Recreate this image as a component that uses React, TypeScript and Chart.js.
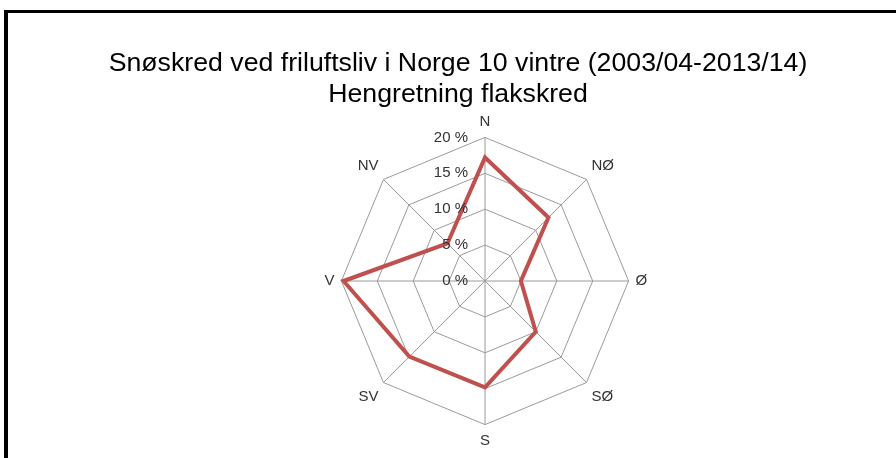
import React, { useEffect, useRef } from 'react';
import { Chart, registerables } from 'chart.js';

Chart.register(...registerables);

const directions = ['N', 'NØ', 'Ø', 'SØ', 'S', 'SV', 'V', 'NV'];
const shares = [17.2, 12.5, 5.0, 10.0, 14.8, 14.9, 19.7, 7.4];
const scaleMin = 0;
const scaleMax = 20;
const scaleStep = 5;
const titleLines = [
  'Snøskred ved friluftsliv i Norge 10 vintre (2003/04-2013/14)',
  'Hengretning flakskred',
];

const FONT = '"Liberation Sans", Arial, sans-serif';

const leftTickLabels = {
  id: 'leftTickLabels',
  afterDatasetsDraw(chart: any) {
    const s = chart.scales.r;
    const ctx = chart.ctx;
    ctx.save();
    ctx.font = `15px ${FONT}`;
    ctx.fillStyle = '#333333';
    ctx.textAlign = 'right';
    ctx.textBaseline = 'middle';
    for (const t of s.ticks) {
      const d = s.getDistanceFromCenterForValue(t.value);
      ctx.fillText(`${t.value} %`, s.xCenter - 17, s.yCenter - d);
    }
    ctx.restore();
  },
};

export default function App() {
  const ref = useRef<HTMLCanvasElement>(null);

  useEffect(() => {
    if (!ref.current) return;
    const chart = new Chart(ref.current, {
      type: 'radar',
      data: {
        labels: directions,
        datasets: [
          {
            label: 'Flakskred',
            data: shares,
            borderColor: '#C0504D',
            backgroundColor: 'transparent',
            borderWidth: 4,
            pointRadius: 0,
            pointHoverRadius: 0,
            fill: false,
            tension: 0,
          },
        ],
      },
      options: {
        responsive: false,
        animation: false,
        layout: { padding: { top: 0, bottom: 7, left: 0, right: 0 } },
        plugins: {
          legend: { display: false },
          tooltip: { enabled: false },
          title: {
            display: true,
            text: titleLines,
            color: '#000000',
            font: { family: FONT, size: 26.7, weight: 'normal', lineHeight: '31.2px' },
            padding: { top: 35, bottom: 2 },
          },
        },
        scales: {
          r: {
            min: scaleMin,
            max: scaleMax,
            afterSetDimensions: (scale: any) => {
              scale.xCenter += 27;
            },
            ticks: { stepSize: scaleStep, display: false },
            grid: { color: '#9a9a9a', lineWidth: 1 },
            angleLines: { color: '#9a9a9a', lineWidth: 1 },
            pointLabels: {
              color: '#333333',
              padding: 7,
              font: { family: FONT, size: 15 },
            },
          },
        },
      },
      plugins: [leftTickLabels],
    } as any);
    return () => chart.destroy();
  }, []);

  return (
    <div
      style={{
        position: 'fixed',
        left: 0,
        top: 0,
        width: 896,
        height: 458,
        overflow: 'hidden',
        background: '#ffffff',
      }}
    >
      <div
        style={{
          position: 'absolute',
          left: 4,
          top: 10,
          width: 1000,
          height: 1000,
          borderLeft: '4px solid #000',
          borderTop: '3px solid #000',
        }}
      />
      <canvas
        ref={ref}
        width={900}
        height={445}
        style={{ position: 'absolute', left: 8, top: 13, display: 'block' }}
      />
    </div>
  );
}
